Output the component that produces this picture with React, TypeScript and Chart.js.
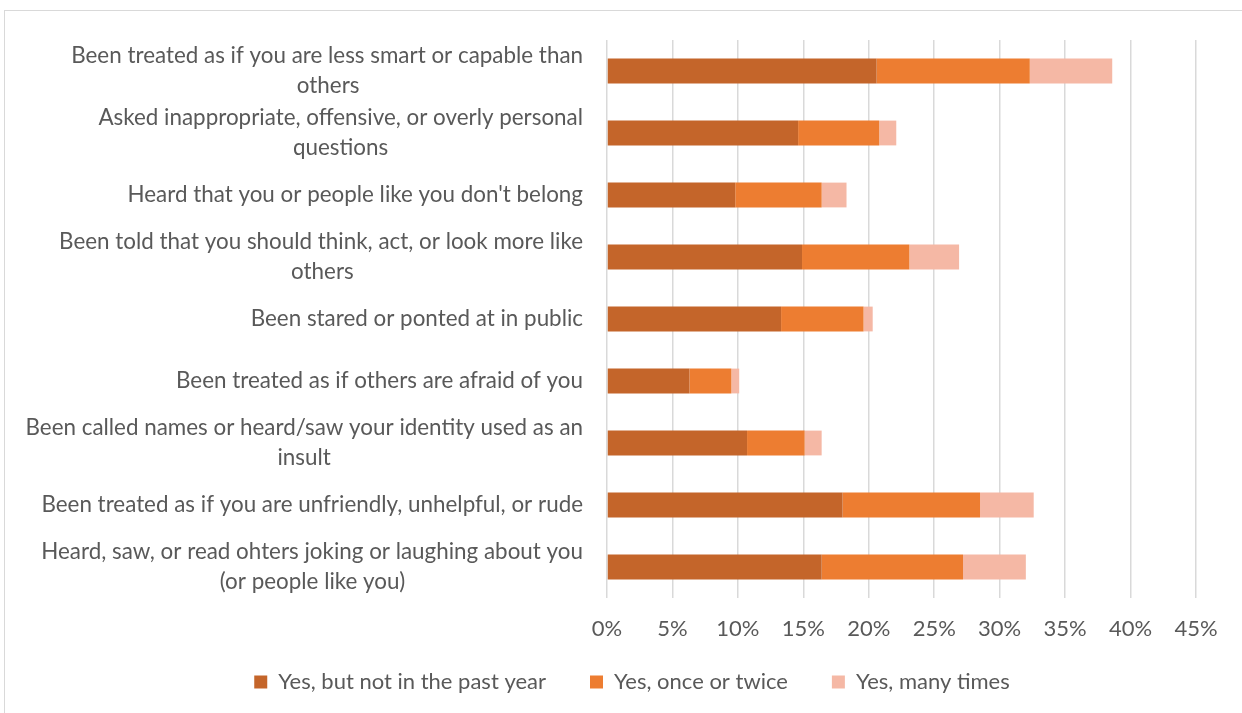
import React, { useEffect, useRef } from "react";
import { Chart, registerables } from "chart.js";

Chart.register(...registerables);

const categories: string[][] = [
  ["Been treated as if you are less smart or capable than", "others"],
  ["Asked inappropriate, offensive, or overly personal", "questions"],
  ["Heard that you or people like you don't belong"],
  ["Been told that you should think, act, or look more like", "others"],
  ["Been stared or ponted at in public"],
  ["Been treated as if others are afraid of you"],
  ["Been called names or heard/saw your identity used as an", "insult"],
  ["Been treated as if you are unfriendly, unhelpful, or rude"],
  ["Heard, saw, or read ohters joking or laughing about you", "(or people like you)"],
];

const seriesNames = ["Yes, but not in the past year", "Yes, once or twice", "Yes, many times"];
const notInPastYear = [20.6, 14.6, 9.8, 14.9, 13.3, 6.3, 10.7, 18.0, 16.4];
const onceOrTwice = [11.7, 6.2, 6.6, 8.2, 6.3, 3.2, 4.4, 10.5, 10.8];
const manyTimes = [6.3, 1.3, 1.9, 3.8, 0.7, 0.6, 1.3, 4.1, 4.8];
const xTickValues = [0, 5, 10, 15, 20, 25, 30, 35, 40, 45];

const colors = ["#C4652A", "#ED7D31", "#F5B8A5"];
const textColor = "#595959";
const fontFamily = "Lato";
const fontSize = 22;
const yFontSize = 22.4;

function centerLines(lines: string[]): string[] {
  if (lines.length < 2) return lines;
  const c = document.createElement("canvas").getContext("2d");
  if (!c) return lines;
  c.font = `${yFontSize}px ${fontFamily}`;
  const widths = lines.map((l) => c.measureText(l).width);
  const maxW = Math.max(...widths);
  const sp = c.measureText("\u00a0").width || 5;
  return lines.map((l, i) => l + "\u00a0".repeat(Math.max(0, Math.round((maxW - widths[i]) / 2 / sp))));
}

export default function App() {
  const ref = useRef<HTMLCanvasElement | null>(null);

  useEffect(() => {
    if (!ref.current) return;
    const padLeft = 68;
    const labels = categories.map((c) => centerLines(c));
    const chart = new Chart(ref.current, {
      type: "bar",
      data: {
        labels,
        datasets: [
          { label: seriesNames[0], data: notInPastYear, backgroundColor: colors[0] },
          { label: seriesNames[1], data: onceOrTwice, backgroundColor: colors[1] },
          { label: seriesNames[2], data: manyTimes, backgroundColor: colors[2] },
        ],
      },
      options: {
        indexAxis: "y",
        animation: false,
        responsive: false,
        devicePixelRatio: 1,
        datasets: { bar: { categoryPercentage: 0.8, barPercentage: 0.5 } },
        layout: { padding: { top: 40, right: 46, bottom: 10, left: padLeft } },
        scales: {
          x: {
            stacked: true,
            min: 0,
            max: 45,
            afterBuildTicks: (s: any) => {
              s.ticks = xTickValues.map((v) => ({ value: v }));
            },
            ticks: {
              callback: (v: any) => `${v}%`,
              color: textColor,
              font: { family: fontFamily, size: fontSize },
              padding: 18,
              maxRotation: 0,
            },
            grid: { color: "#d9d9d9", lineWidth: 1.5, drawTicks: false },
            border: { display: false },
            afterFit: (s: any) => {
              s.height = 29;
              s._computeLabelArea = () => undefined;
            },
          },
          y: {
            stacked: true,
            ticks: {
              color: textColor,
              font: { family: fontFamily, size: yFontSize, lineHeight: 30 / yFontSize },
              padding: 24,
              autoSkip: false,
            },
            grid: { display: false, drawTicks: false },
            border: { display: false },
            afterFit: (s: any) => {
              s.width = 607 - padLeft;
              s.paddingTop = 0;
              s.paddingBottom = 0;
              s._computeLabelArea = () => undefined;
            },
          },
        },
        plugins: {
          legend: {
            position: "bottom",
            labels: {
              boxWidth: 13,
              boxHeight: 13,
              padding: 44,
              color: textColor,
              font: { family: fontFamily, size: fontSize },
            },
          },
          tooltip: { enabled: false },
        },
      },
    });
    return () => chart.destroy();
  }, []);

  return (
    <div style={{ position: "fixed", left: 0, top: 0, width: 1242, height: 713, background: "#fff", overflow: "hidden" }}>
      <div
        style={{
          position: "absolute",
          left: 4,
          top: 10,
          width: 1300,
          height: 800,
          borderLeft: "1px solid #d9d9d9",
          borderTop: "1px solid #d9d9d9",
        }}
      />
      <canvas ref={ref} width={1242} height={713} style={{ position: "absolute", left: 0, top: 0 }} />
    </div>
  );
}
